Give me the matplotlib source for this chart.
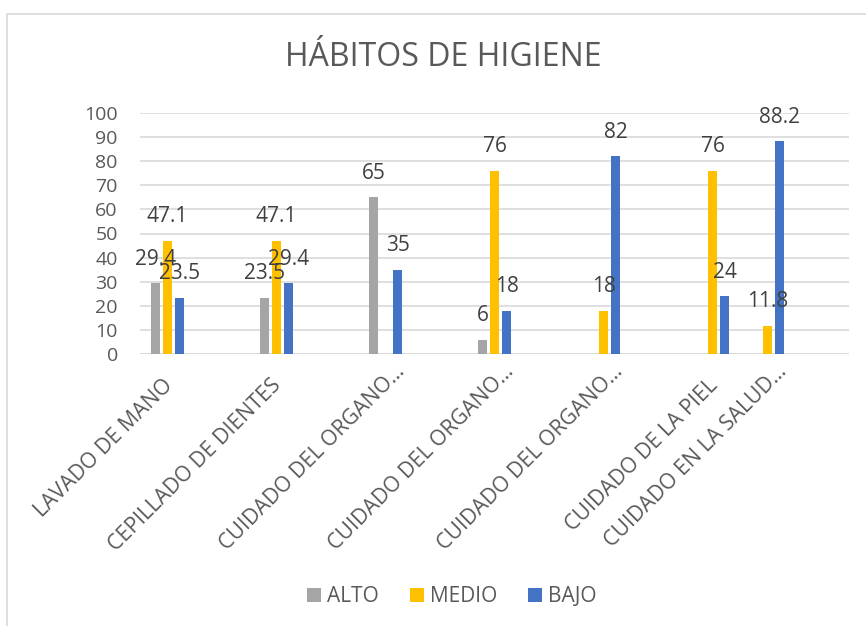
import matplotlib
matplotlib.use("Agg")
import matplotlib.pyplot as plt
import numpy as np
from matplotlib.patches import Rectangle

plt.rcParams['font.family'] = ['Open Sans', 'DejaVu Sans']

categories = ["LAVADO DE MANO", "CEPILLADO DE DIENTES", "CUIDADO DEL ORGANO…",
              "CUIDADO DEL ORGANO…", "CUIDADO DEL ORGANO…", "CUIDADO DE LA PIEL",
              "CUIDADO EN LA SALUD…"]
# category slot positions on the (13-slot) category axis
slots = [0, 2, 4, 6, 8, 10, 11]
n_slots = 13
alto = [29.4, 23.5, 65, 6, None, None, None]
medio = [47.1, 47.1, None, 76, 18, 76, 11.8]
bajo = [23.5, 29.4, 35, 18, 82, 24, 88.2]
series_names = ["ALTO", "MEDIO", "BAJO"]
series_colors = ["#A5A5A5", "#FFC000", "#4472C4"]
yticks = [0, 10, 20, 30, 40, 50, 60, 70, 80, 90, 100]

W, H = 866, 626
fig = plt.figure(figsize=(W / 100, H / 100), dpi=100)
fig.patch.set_facecolor("white")
fig.patches.append(Rectangle((7 / W, -0.2), 2, 1.2 - 14 / H + 0.0, transform=fig.transFigure,
                             fill=False, edgecolor="#D9D9D9", linewidth=1.2))

left, right = 140 / W, 849 / W
bottom, top = 1 - 354.3 / H, 1 - 112.7 / H
ax = fig.add_axes([left, bottom, right - left, top - bottom])
ax.set_xlim(-0.5, n_slots - 0.5)
ax.set_ylim(0, 100)

bw = 0.165
step = 0.222
text_col = "#595959"
for k, (vals, name, col) in enumerate(zip([alto, medio, bajo], series_names, series_colors)):
    xs = [s + (k - 1) * step for s, v in zip(slots, vals) if v is not None]
    vs = [v for v in vals if v is not None]
    ax.bar(xs, vs, width=bw, color=col, label=name, zorder=3, linewidth=0)
    for x, v in zip(xs, vs):
        ax.annotate(f"{v:g}", (x, v), xytext=(0, 24), textcoords="offset pixels",
                    ha="center", va="center", fontsize=15, color="#404040", zorder=5)

ax.set_yticks(yticks)
ax.set_yticklabels([str(t) for t in yticks], fontsize=14, color=text_col)
ax.tick_params(axis="y", length=0, pad=16)
ax.set_xticks([])
ax.grid(axis="y", color="#D9D9D9", linewidth=1.2, zorder=0)
for s in ax.spines.values():
    s.set_visible(False)
ax.axhline(0, color="#D9D9D9", linewidth=1.2, zorder=2)

for s, lab in zip(slots, categories):
    extra = 14 if lab.endswith("…") else 0
    ax.annotate(lab, (s, 0), xytext=(2 + extra, -28 + extra), textcoords="offset pixels",
                ha="right", va="center", rotation=45, rotation_mode="anchor",
                fontsize=15.3, color=text_col, annotation_clip=False)

fig.text(443 / W, 1 - 57 / H, "HÁBITOS DE HIGIENE", ha="center", va="center",
         fontsize=23, color=text_col)

handles, labels = ax.get_legend_handles_labels()
leg = fig.legend(handles, labels, loc="center", bbox_to_anchor=(452 / W, 1 - 597 / H),
                 ncol=3, frameon=False, fontsize=15, handlelength=0.65, handleheight=0.65,
                 handletextpad=0.3, columnspacing=1.5, labelcolor=text_col)

fig.savefig("out.png", dpi=100, facecolor="white")
